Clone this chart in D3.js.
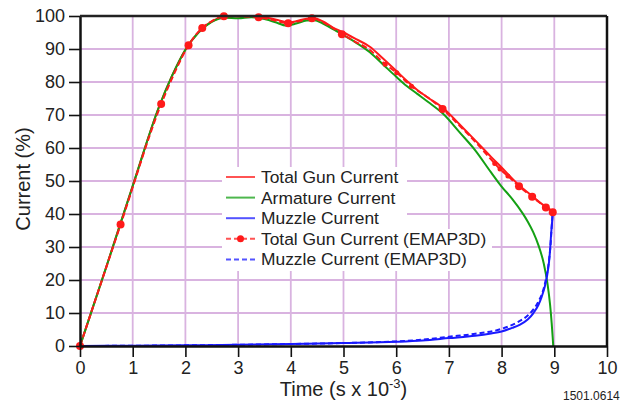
<!DOCTYPE html>
<html lang="en">
<head>
    <meta charset="utf-8">
    <title>Gun Current</title>
    <script src="https://d3js.org/d3.v7.min.js"></script>
    <style>
        body { margin: 0; background: #fff; }
        svg { display: block; font-family: "Liberation Sans", Arial, sans-serif; }
        .tick text { font-size: 18px; fill: #222; }
        .axis-title { font-size: 20px; fill: #222; }
        .legend-text { font-size: 17.4px; fill: #222; }
    </style>
</head>
<body>
    <svg id="chart" width="621" height="402"></svg>
    <script>
        // Time in s x 10^-3, current in %
        const totalX = [0, 0.5, 1.0, 1.5, 1.75, 2.0, 2.25, 2.5, 2.75, 3.0, 3.25, 3.5, 3.75, 3.95, 4.1, 4.3, 4.45, 4.6, 4.8, 5.0, 5.25, 5.5, 5.75, 6.0, 6.2, 6.4, 6.6, 6.9, 7.2, 7.5, 7.8, 8.0, 8.3, 8.6, 8.8, 9.0];
        const totalY = [0, 24, 48.5, 72.5, 82, 89.8, 95.2, 98.4, 99.8, 100, 100, 99.6, 98.8, 98.1, 98.4, 99.2, 99.3, 98.4, 96.5, 95, 92.9, 90.7, 87.1, 83.4, 80.4, 77.6, 75.3, 72, 67.2, 62.3, 57.3, 54.1, 49.2, 45.2, 42.6, 40.5];

        const armX = [0, 0.5, 1.0, 1.5, 1.75, 2.0, 2.25, 2.5, 2.75, 3.0, 3.25, 3.5, 3.75, 3.9, 4.1, 4.3, 4.45, 4.6, 4.8, 5.0, 5.25, 5.5, 5.75, 6.0, 6.2, 6.4, 6.6, 6.9, 7.2, 7.5, 7.8, 8.0, 8.2, 8.4, 8.5, 8.6, 8.7, 8.8, 8.87, 8.92, 8.95, 8.97, 8.98];
        const armY = [0, 24, 48.5, 72.5, 82, 89.8, 95, 98.2, 99.5, 99.3, 99.6, 99.1, 97.9, 97.1, 97.7, 98.6, 98.7, 97.8, 96, 94.2, 91.8, 89, 85.3, 81.6, 78.8, 76.4, 74, 70.2, 64.8, 59.3, 52.6, 48.3, 44.6, 40.2, 37.6, 34.5, 30.5, 25, 19, 12.5, 7, 2.5, 0];

        const muzzleX = [0, 1, 2, 3, 4, 5, 6, 6.5, 7, 7.5, 7.8, 8.0, 8.2, 8.35, 8.5, 8.6, 8.7, 8.76, 8.82, 8.86, 8.9, 8.92, 8.94, 8.96, 8.97];
        const muzzleY = [0, 0.1, 0.2, 0.35, 0.6, 0.9, 1.3, 1.7, 2.4, 3.1, 3.8, 4.4, 5.5, 6.5, 8.1, 9.9, 12.5, 14.9, 18, 21, 25.5, 29, 34, 38, 40.5];

        const emapTotalX = [0, 0.77, 1.54, 1.8, 2.06, 2.32, 2.5, 2.73, 3.0, 3.39, 3.7, 3.95, 4.15, 4.4, 4.6, 4.8, 4.97, 5.2, 5.5, 5.79, 6.01, 6.29, 6.6, 6.88, 7.2, 7.5, 7.87, 7.97, 8.12, 8.33, 8.58, 8.84, 8.97];
        const emapTotalY = [0, 36.8, 73.3, 83, 91.1, 96.4, 98.4, 99.9, 99.9, 99.6, 98.6, 97.8, 98.4, 99.3, 98.2, 96.3, 94.5, 92.4, 89.7, 85.4, 82.8, 78.7, 75.3, 71.8, 66.8, 61.9, 55.3, 53.6, 51.5, 48.4, 45.2, 42.0, 40.5];

        // big and small dots on the EMAP3D total curve
        const emapDotX = [0, 0.77, 1.54, 2.06, 2.32, 2.73, 3.39, 3.95, 4.4, 4.97, 6.88, 8.33, 8.58, 8.84, 8.97];
        const emapDotY = [0, 36.8, 73.3, 91.1, 96.4, 99.9, 99.6, 97.8, 99.3, 94.5, 71.8, 48.4, 45.2, 42.0, 40.5];
        const emapSmallDotX = [5.79, 6.01, 6.29, 7.87, 7.97, 8.12];
        const emapSmallDotY = [85.4, 82.8, 78.7, 55.3, 53.6, 51.5];

        const emapMuzzleX = [0, 2, 4, 5, 6, 6.5, 7, 7.5, 8, 8.3, 8.5, 8.6, 8.7, 8.8, 8.85, 8.9, 8.93, 8.95, 8.97];
        const emapMuzzleY = [0, 0.2, 0.6, 0.9, 1.4, 1.9, 2.8, 3.7, 5.2, 7.2, 9.3, 11, 13.5, 17.5, 21, 26, 31, 36, 40.5];

        const xTicks = [0, 1, 2, 3, 4, 5, 6, 7, 8, 9, 10];
        const yTicks = [0, 10, 20, 30, 40, 50, 60, 70, 80, 90, 100];

        const legendLabels = ["Total Gun Current", "Armature Current", "Muzzle Current", "Total Gun Current (EMAP3D)", "Muzzle Current (EMAP3D)"];

        const RED = "#ff1a1a", GREEN = "#14a014", BLUE = "#1a1aff", GRID = "#d9b3e0";

        const svg = d3.select("#chart");
        const margin = { left: 80, right: 14, top: 16, bottom: 56 };
        const W = 621, H = 402;

        const x = d3.scaleLinear().domain([0, 10]).range([margin.left, W - margin.right]);
        const y = d3.scaleLinear().domain([0, 100]).range([H - margin.bottom, margin.top]);

        const zip = (xs, ys) => xs.map((v, i) => [v, ys[i]]);

        // grid
        const grid = svg.append("g");
        grid.selectAll(".gx").data(xTicks.slice(1, -1)).join("line")
            .attr("x1", d => x(d)).attr("x2", d => x(d))
            .attr("y1", y(0)).attr("y2", y(100))
            .attr("stroke", GRID).attr("stroke-width", 1.8);
        grid.selectAll(".gy").data(yTicks.slice(1, -1)).join("line")
            .attr("x1", x(0)).attr("x2", x(10))
            .attr("y1", d => y(d)).attr("y2", d => y(d))
            .attr("stroke", GRID).attr("stroke-width", 1.8);

        // legend backgrounds hide the grid
        svg.append("rect").attr("x", 222).attr("y", 167).attr("width", 185).attr("height", 63).attr("fill", "#fff");
        svg.append("rect").attr("x", 222).attr("y", 229).attr("width", 270).attr("height", 42).attr("fill", "#fff");

        const line = d3.line().x(d => x(d[0])).y(d => y(d[1])).curve(d3.curveMonotoneX);

        const plot = svg.append("g");
        plot.append("path").datum(zip(totalX, totalY)).attr("d", line)
            .attr("fill", "none").attr("stroke", RED).attr("stroke-width", 2);
        plot.append("path").datum(zip(armX, armY)).attr("d", line)
            .attr("fill", "none").attr("stroke", GREEN).attr("stroke-width", 2);
        plot.append("path").datum(zip(muzzleX, muzzleY)).attr("d", line)
            .attr("fill", "none").attr("stroke", BLUE).attr("stroke-width", 2);
        plot.append("path").datum(zip(emapTotalX, emapTotalY)).attr("d", line)
            .attr("fill", "none").attr("stroke", RED).attr("stroke-width", 2)
            .attr("stroke-dasharray", "6,3");
        plot.append("path").datum(zip(emapMuzzleX, emapMuzzleY)).attr("d", line)
            .attr("fill", "none").attr("stroke", BLUE).attr("stroke-width", 2)
            .attr("stroke-dasharray", "5,3");
        plot.selectAll(".dot").data(zip(emapDotX, emapDotY)).join("circle")
            .attr("cx", d => x(d[0])).attr("cy", d => y(d[1])).attr("r", 4).attr("fill", RED);
        plot.selectAll(".sdot").data(zip(emapSmallDotX, emapSmallDotY)).join("circle")
            .attr("cx", d => x(d[0])).attr("cy", d => y(d[1])).attr("r", 2.5).attr("fill", RED);

        // axes
        const xAxis = svg.append("g").attr("transform", `translate(0,${y(0)})`)
            .call(d3.axisBottom(x).tickValues(xTicks).tickSize(11).tickSizeOuter(0).tickPadding(4));
        const yAxis = svg.append("g").attr("transform", `translate(${x(0)},0)`)
            .call(d3.axisLeft(y).tickValues(yTicks).tickSize(11).tickSizeOuter(0).tickPadding(4));
        [xAxis, yAxis].forEach(a => {
            a.select(".domain").attr("stroke", "#111").attr("stroke-width", 2.5);
            a.selectAll(".tick line").attr("stroke", "#111").attr("stroke-width", 1.6);
            a.attr("font-family", null).attr("font-size", null);
        });

        // top and right frame
        svg.append("line").attr("x1", x(0)).attr("x2", x(10)).attr("y1", y(100)).attr("y2", y(100))
            .attr("stroke", "#222").attr("stroke-width", 2.5);
        svg.append("line").attr("x1", x(10)).attr("x2", x(10)).attr("y1", y(100)).attr("y2", y(0))
            .attr("stroke", "#111").attr("stroke-width", 2.5);

        // legend
        const leg = svg.append("g");
        const legStyles = [
            { c: RED, dash: null, dot: false },
            { c: GREEN, dash: null, dot: false },
            { c: BLUE, dash: null, dot: false },
            { c: RED, dash: "5,3", dot: true },
            { c: BLUE, dash: "5,3", dot: false }
        ];
        legendLabels.forEach((lab, i) => {
            const cy = 177 + i * 20.6;
            leg.append("line").attr("x1", 226).attr("x2", 255).attr("y1", cy).attr("y2", cy)
                .attr("stroke", legStyles[i].c).attr("stroke-width", 2)
                .attr("stroke-dasharray", legStyles[i].dash).attr("opacity", 0.75);
            if (legStyles[i].dot) {
                leg.append("circle").attr("cx", 240.5).attr("cy", cy).attr("r", 3.5).attr("fill", RED);
            }
            leg.append("text").attr("class", "legend-text").attr("x", 261).attr("y", cy)
                .attr("dy", "0.35em").text(lab);
        });

        // axis titles
        svg.append("text").attr("class", "axis-title")
            .attr("transform", "translate(30,179) rotate(-90)")
            .attr("text-anchor", "middle").text("Current (%)");
        const xt = svg.append("text").attr("class", "axis-title")
            .attr("x", (x(0) + x(10)) / 2).attr("y", 396).attr("text-anchor", "middle");
        xt.append("tspan").text("Time (s x 10");
        xt.append("tspan").attr("dy", -8).attr("font-size", 13).text("-3");
        xt.append("tspan").attr("dy", 8).text(")");

        svg.append("text").attr("x", 563).attr("y", 400).attr("font-size", 12).attr("fill", "#222")
            .text("1501.0614");
    </script>
</body>
</html>
